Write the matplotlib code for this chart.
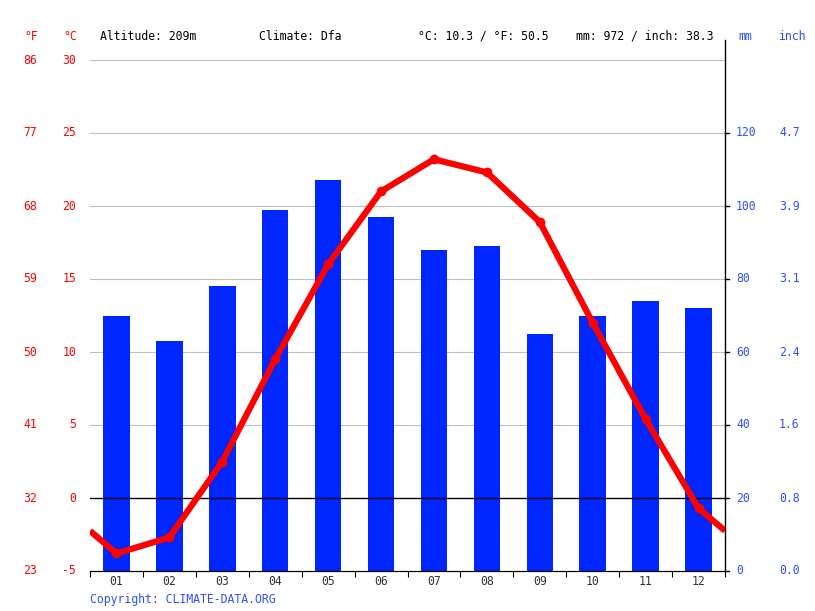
import numpy as np
import matplotlib.pyplot as plt

# ── Data ──────────────────────────────────────────────────────
months = ['01', '02', '03', '04', '05', '06', '07', '08', '09', '10', '11', '12']
temp_c = [-3.8, -2.7, 2.5, 9.5, 16.0, 21.0, 23.2, 22.3, 18.9, 12.0, 5.4, -0.7]
precip_mm = [70, 63, 78, 99, 107, 97, 88, 89, 65, 70, 74, 72]

c_ticks = [-5, 0, 5, 10, 15, 20, 25, 30]
f_labels = ['23', '32', '41', '50', '59', '68', '77', '86']
mm_ticks = [0, 20, 40, 60, 80, 100, 120]
inch_labels = ['0.0', '0.8', '1.6', '2.4', '3.1', '3.9', '4.7']

header = [('Altitude: 209m', 100), ('Climate: Dfa', 259),
          ('°C: 10.3 / °F: 50.5', 418), ('mm: 972 / inch: 38.3', 576)]

RED = '#ff0000'
BLUE = '#0026ff'
LBLUE = '#3050ff'
MONO = 'DejaVu Sans Mono'
FS = 8.3
W, H = 815, 611

# ── Figure ────────────────────────────────────────────────────
fig = plt.figure(figsize=(W / 100, H / 100), dpi=100)
ax = fig.add_axes([90 / W, 1 - 571 / H, (725 - 90) / W, (571 - 60) / H])
ax2 = ax.twinx()
ax.set_zorder(ax2.get_zorder() + 1); ax.patch.set_visible(False)

x = np.arange(len(months))
ax.set_xlim(-0.5, len(months) - 0.5)
ax.set_ylim(-5, 30)
ax2.set_ylim(-5 * 4 + 20, 30 * 4 + 20)  # 5 °C == 20 mm, 0 mm at -5 °C

# bars
ax2.bar(x, precip_mm, width=0.5, color=BLUE, zorder=2)

# grid
for c in c_ticks[2:]:
    ax2.axhline(c * 4 + 20, color='#c0c0c0', lw=0.8, zorder=1)
ax.axhline(0, color='black', lw=1, zorder=3)

# temperature line, wrapped to the edges
edge = (temp_c[0] + temp_c[-1]) / 2
lx = np.concatenate([[-0.5], x, [len(months) - 0.5]])
ly = np.concatenate([[edge], temp_c, [edge]])
ax.plot(lx, ly, color=RED, lw=4.5, solid_capstyle='butt', zorder=4)
ax.plot(x, temp_c, 'o', color=RED, ms=6, zorder=5)

# spines / ticks
for a in (ax, ax2):
    for s in ('top', 'left', 'right'):
        a.spines[s].set_visible(False)
    a.spines['bottom'].set_color('black')
ax.set_yticks([]); ax2.set_yticks([])
ax.set_xticks(np.arange(-0.5, len(months), 1))
ax.set_xticklabels([])
ax.tick_params(axis='x', length=4, color='black')
for i, m in enumerate(months):
    ax.text(i, -5.75, m, ha='center', va='center', fontsize=FS,
            family=MONO, color='#333333', clip_on=False)

# right spine extends above the plot
ax.plot([1, 1], [0, 1 + 20 / 511], transform=ax.transAxes, color='black',
        lw=1, clip_on=False, zorder=6)
for t in mm_ticks:
    yy = t / 140
    ax.plot([1, 1 + 4 / 635], [yy, yy], transform=ax.transAxes, color='black',
            lw=1, clip_on=False)

# axis labels
for c, f in zip(c_ticks, f_labels):
    yf = 1 - (60 + (30 - c) * 511 / 35) / H
    fig.text(76 / W, yf, str(c), ha='right', va='center', color=RED, fontsize=FS, family=MONO)
    fig.text(37 / W, yf, f, ha='right', va='center', color=RED, fontsize=FS, family=MONO)
for t, inch in zip(mm_ticks, inch_labels):
    yf = 1 - (571 - t * 511 / 140) / H
    fig.text(736 / W, yf, str(t), ha='left', va='center', color=LBLUE, fontsize=FS, family=MONO)
    fig.text(779 / W, yf, inch, ha='left', va='center', color=LBLUE, fontsize=FS, family=MONO)

# header
yh = 1 - 36 / H
fig.text(31 / W, yh, '°F', ha='center', va='center', color=RED, fontsize=FS, family=MONO)
fig.text(70 / W, yh, '°C', ha='center', va='center', color=RED, fontsize=FS, family=MONO)
for txt, px in header:
    fig.text(px / W, yh, txt, ha='left', va='center', color='black', fontsize=FS, family=MONO)
fig.text(745 / W, yh, 'mm', ha='center', va='center', color=LBLUE, fontsize=FS, family=MONO)
fig.text(792 / W, yh, 'inch', ha='center', va='center', color=LBLUE, fontsize=FS, family=MONO)

fig.text(90 / W, 1 - 599 / H, 'Copyright: CLIMATE-DATA.ORG', ha='left', va='center',
         color=LBLUE, fontsize=FS, family=MONO)

plt.savefig('out.png', dpi=100)
